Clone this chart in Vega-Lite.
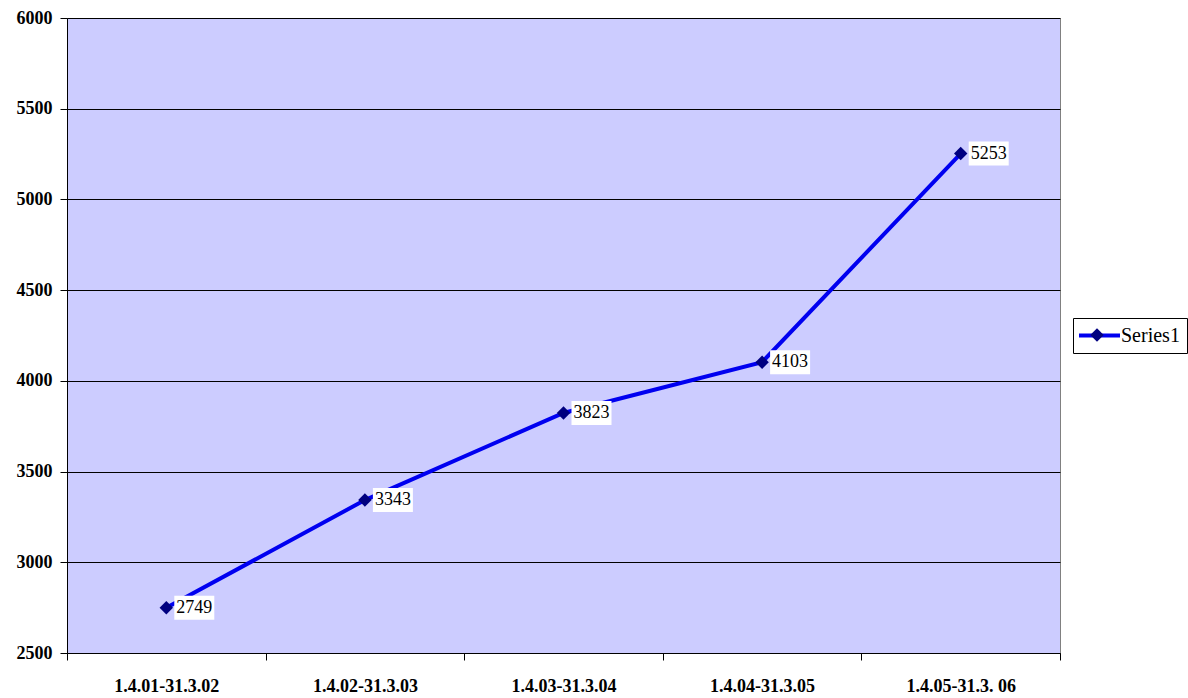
{
  "$schema": "https://vega.github.io/schema/vega-lite/v6.json",
  "width": 993,
  "height": 635,
  "autosize": {"type": "none"},
  "padding": {"left": 67, "top": 18, "right": 128, "bottom": 45},
  "background": "#ffffff",
  "config": {
    "view": {"fill": "#CCCCFF", "stroke": "#808080", "strokeWidth": 1},
    "axis": {
      "labelFont": "Liberation Serif",
      "labelFontWeight": "bold",
      "labelFontSize": 18,
      "labelColor": "#000000",
      "domainColor": "#000000",
      "domainWidth": 1,
      "tickColor": "#000000",
      "tickWidth": 1,
      "tickSize": 7,
      "title": null
    }
  },
  "data": {
    "values": [
      {"period": "1.4.01-31.3.02", "value": 2749, "label": "2749", "series": "Series1", "series_m": "Series1"},
      {"period": "1.4.02-31.3.03", "value": 3343, "label": "3343", "series": "Series1", "series_m": "Series1"},
      {"period": "1.4.03-31.3.04", "value": 3823, "label": "3823", "series": "Series1", "series_m": "Series1"},
      {"period": "1.4.04-31.3.05", "value": 4103, "label": "4103", "series": "Series1", "series_m": "Series1"},
      {"period": "1.4.05-31.3. 06", "value": 5253, "label": "5253", "series": "Series1", "series_m": "Series1"}
    ]
  },
  "encoding": {
    "x": {
      "field": "period",
      "type": "ordinal",
      "sort": null,
      "scale": {"type": "band", "paddingInner": 0, "paddingOuter": 0},
      "axis": {"labelAngle": 0, "tickBand": "extent", "labelPadding": 17, "grid": false, "labelLimit": 300}
    },
    "y": {
      "field": "value",
      "type": "quantitative",
      "scale": {"domain": [2500, 6000], "nice": false, "zero": false},
      "axis": {
        "values": [2500, 3000, 3500, 4000, 4500, 5000, 5500, 6000],
        "format": "d",
        "grid": true,
        "gridColor": "#000000",
        "gridOpacity": 1,
        "gridWidth": 1,
        "labelPadding": 8
      }
    }
  },
  "layer": [
    {
      "mark": {"type": "line", "strokeWidth": 4},
      "encoding": {
        "stroke": {
          "field": "series",
          "type": "nominal",
          "scale": {"range": ["#0000F0"]},
          "legend": {
            "orient": "none",
            "legendX": 1006,
            "legendY": 300,
            "title": null,
            "padding": 7,
            "strokeColor": "#000000",
            "fillColor": "#ffffff",
            "symbolType": "M-2.5,0H2.5",
            "symbolSize": 269,
            "symbolStrokeWidth": 4,
            "symbolOffset": 9,
            "labelOffset": 11,
            "labelFont": "Liberation Serif",
            "labelFontSize": 20,
            "labelColor": "#000000",
            "labelLimit": 200
          }
        }
      }
    },
    {
      "mark": {"type": "point", "shape": "diamond", "filled": true, "size": 180, "opacity": 1},
      "encoding": {
        "fill": {
          "field": "series_m",
          "type": "nominal",
          "scale": {"range": ["#000080"]},
          "legend": {
            "orient": "none",
            "legendX": 1013,
            "legendY": 300,
            "title": null,
            "padding": 7,
            "symbolType": "diamond",
            "symbolSize": 180,
            "symbolStrokeWidth": 0,
            "labelExpr": "''",
            "labelFont": "Liberation Serif",
            "labelFontSize": 20,
            "labelLimit": 200
          }
        }
      }
    },
    {
      "mark": {
        "type": "point",
        "shape": "M0.8,-1.2H4.8V1.2H0.8Z",
        "filled": true,
        "fill": "#ffffff",
        "strokeWidth": 0,
        "size": 400,
        "opacity": 1
      }
    },
    {
      "mark": {
        "type": "text",
        "align": "left",
        "baseline": "middle",
        "dx": 10,
        "font": "Liberation Serif",
        "fontSize": 18,
        "color": "#000000"
      },
      "encoding": {"text": {"field": "label"}}
    }
  ]
}
